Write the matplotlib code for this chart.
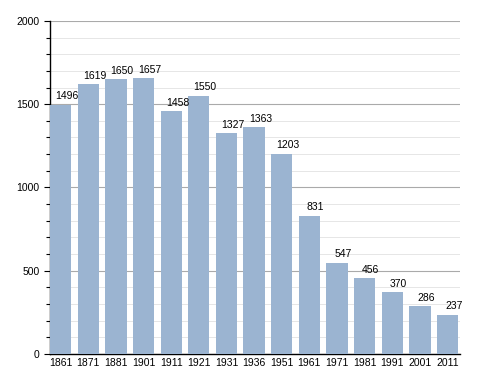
import matplotlib.pyplot as plt
from matplotlib.ticker import MultipleLocator

years = ['1861', '1871', '1881', '1901', '1911', '1921', '1931', '1936',
         '1951', '1961', '1971', '1981', '1991', '2001', '2011']
population = [1496, 1619, 1650, 1657, 1458, 1550, 1327, 1363,
              1203, 831, 547, 456, 370, 286, 237]

plt.rcParams['font.family'] = ['Liberation Sans', 'DejaVu Sans']

fig = plt.figure(figsize=(4.88, 3.73), dpi=100)
ax = fig.add_axes([0.1025, 0.051, 0.84, 0.893])

x = list(range(len(years)))
bars = ax.bar(x, population, width=0.77, color='#9bb4d1', zorder=3)
# value labels sit a little to the right of the bar centre
for xi, v in zip(x, population):
    ax.annotate(str(v), (xi, v), xytext=(4.5, 2.5), textcoords='offset points',
                ha='center', va='bottom', fontsize=7.5, zorder=4)

ax.set_xlim(-0.385, len(years) - 0.55)
ax.set_ylim(0, 2000)
ax.set_xticks(x)
ax.set_xticklabels(years, fontsize=7.5)
ax.yaxis.set_major_locator(MultipleLocator(500))
ax.yaxis.set_minor_locator(MultipleLocator(100))
ax.tick_params(axis='y', labelsize=7.5, length=4, width=0.8, which='major')
ax.tick_params(axis='y', length=3, width=0.8, which='minor')
ax.tick_params(axis='x', length=0, pad=3)
ax.grid(axis='y', which='major', color='#aaaaaa', linewidth=0.8, zorder=0)
ax.grid(axis='y', which='minor', color='#e2e2e2', linewidth=0.6, zorder=0)

for s in ['top', 'right']:
    ax.spines[s].set_visible(False)
ax.spines['left'].set_linewidth(1.0)
ax.spines['bottom'].set_linewidth(1.0)

fig.savefig('out.png', dpi=100)
